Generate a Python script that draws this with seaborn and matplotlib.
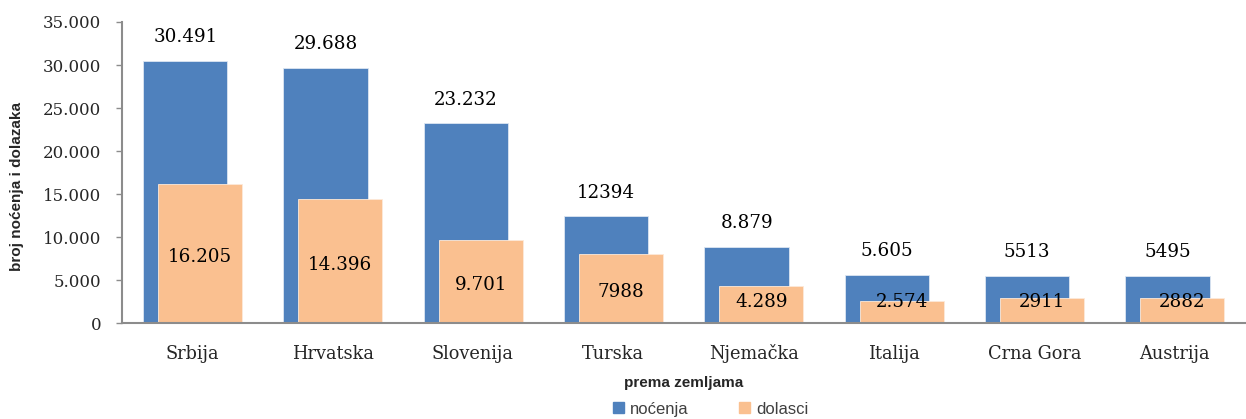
import matplotlib
matplotlib.use("Agg")
import matplotlib.pyplot as plt
import matplotlib.ticker as mticker
from matplotlib.patches import Patch
import seaborn as sns
import pandas as pd

# data
zemlje = ['Srbija', 'Hrvatska', 'Slovenija', 'Turska', 'Njemačka', 'Italija', 'Crna Gora', 'Austrija']
nocenja = [30491, 29688, 23232, 12394, 8879, 5605, 5513, 5495]
dolasci = [16205, 14396, 9701, 7988, 4289, 2574, 2911, 2882]
nocenja_lbl = ['30.491', '29.688', '23.232', '12394', '8.879', '5.605', '5513', '5495']
dolasci_lbl = ['16.205', '14.396', '9.701', '7988', '4.289', '2.574', '2911', '2882']

df = pd.DataFrame({'zemlja': zemlje, 'nocenja': nocenja, 'dolasci': dolasci})

sns.set_style('white')
plt.rcParams['font.family'] = ['DejaVu Serif']

blue = '#4F81BD'
orange = '#FAC090'

fig, ax = plt.subplots(figsize=(12.46, 4.19), dpi=100)
plt.subplots_adjust(left=0.098, right=0.999, top=0.9475, bottom=0.229)

sns.barplot(data=df, x='zemlja', y='nocenja', color=blue, saturation=1, width=0.6,
            edgecolor='#DCE6F2', linewidth=0.6, ax=ax)
for p in ax.patches:
    p.set_x(p.get_x() - 0.05)
n_blue = len(ax.patches)
sns.barplot(data=df, x='zemlja', y='dolasci', color=orange, saturation=1, width=0.6,
            edgecolor='#FDE9D9', linewidth=0.6, ax=ax)
for p in ax.patches[n_blue:]:
    p.set_x(p.get_x() + 0.055)

# labels
for i in range(len(zemlje)):
    ax.annotate(nocenja_lbl[i], (i - 0.05, nocenja[i]), xytext=(0, 17), textcoords='offset points',
                ha='center', va='center', fontsize=13.2, color='black')
    ax.text(i + 0.055, max(dolasci[i] / 2 - 400, 2450), dolasci_lbl[i],
            ha='center', va='center', fontsize=13.2, color='black')

ax.set_xlim(-0.5, len(zemlje) - 0.5)
ax.set_ylim(0, 35000)
ax.yaxis.set_major_locator(mticker.MultipleLocator(5000))
ax.yaxis.set_major_formatter(mticker.FuncFormatter(lambda v, p: f'{int(v):,}'.replace(',', '.')))

for s in ['top', 'right']:
    ax.spines[s].set_visible(False)
for s in ['left', 'bottom']:
    ax.spines[s].set_color('#8C8C8C')
    ax.spines[s].set_linewidth(1.5)

ax.tick_params(axis='y', which='both', left=True, length=4, width=1, color='#8C8C8C', pad=11, labelsize=12)
ax.tick_params(axis='x', bottom=False, pad=22.5, labelsize=12.8)
for t in ax.get_xticklabels():
    t.set_verticalalignment('baseline')

sans = {'family': 'Liberation Sans', 'weight': 'bold', 'size': 11}
ax.set_ylabel('broj noćenja i dolazaka', fontdict=sans)
ax.yaxis.set_label_coords(-0.087, 0.452)
ax.set_xlabel('prema zemljama', fontdict=sans, labelpad=9)

handles = [Patch(color=blue, label='noćenja'), Patch(color=orange, label='dolasci')]
fig.legend(handles=handles, loc='center', bbox_to_anchor=(0.5705, 1 - 409 / 419), ncol=2, frameon=False,
           handlelength=0.65, handleheight=0.65, handletextpad=0.4, columnspacing=3.0,
           prop={'family': 'Liberation Sans', 'size': 12}, labelcolor='#404040')

fig.savefig('out.png', dpi=100)
